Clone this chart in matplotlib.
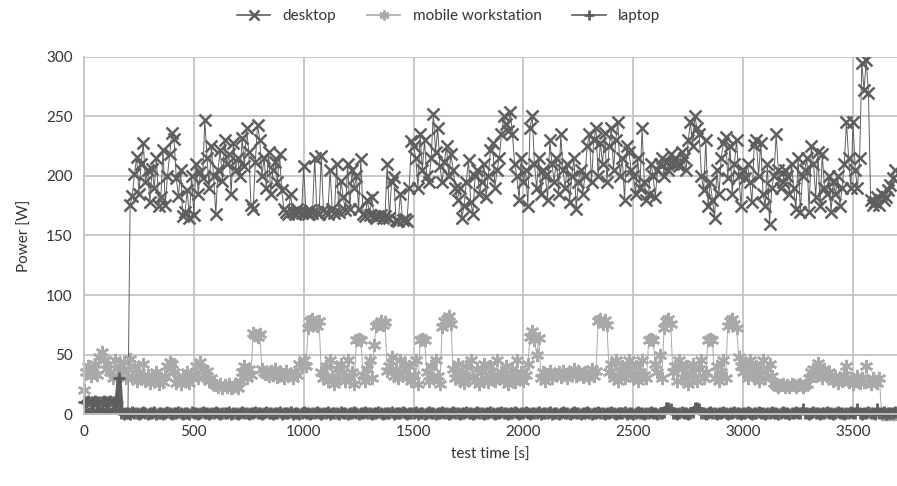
import matplotlib.pyplot as plt
import numpy as np

# test time, one sample every 10 s
t = np.arange(0, 3700, 10)

desktop = [
    0, 0, 0, 0, 0, 0, 0, 0, 0, 0,
    0, 0, 0, 0, 0, 0, 0, 0, 0, 0,
    0, 176, 183, 202, 216, 185, 210, 228, 195, 205,
    178, 206, 190, 215, 175, 182, 222, 176, 200, 218,
    236, 231, 198, 183, 205, 166, 170, 188, 165, 200,
    167, 210, 185, 203, 198, 247, 215, 190, 225, 200,
    168, 205, 222, 196, 230, 210, 218, 185, 228, 205,
    215, 200, 232, 208, 240, 220, 176, 172, 212, 243,
    230, 200, 215, 190, 220, 185, 205, 212, 195, 218,
    188, 172, 170, 168, 185, 170, 168, 172, 170, 169,
    208, 170, 168, 171, 169, 215, 170, 168, 217, 171,
    170, 168, 205, 172, 169, 210, 170, 196, 182, 171,
    210, 172, 205, 190, 200, 172, 214, 168, 166, 180,
    167, 182, 166, 165, 166, 167, 165, 166, 210, 165,
    195, 199, 163, 162, 185, 163, 164, 162, 190, 229,
    225, 215, 190, 235, 205, 230, 200, 195, 215, 252,
    220, 240, 208, 195, 212, 225, 200, 218, 205, 190,
    180, 190, 165, 175, 195, 213, 178, 168, 200, 205,
    185, 195, 210, 182, 200, 222, 228, 190, 205, 215,
    235, 250, 244, 238, 254, 235, 210, 200, 180, 215,
    195, 205, 175, 240, 250, 210, 190, 215, 185, 205,
    200, 180, 230, 210, 195, 215, 185, 235, 205, 190,
    210, 178, 200, 215, 172, 195, 205, 185, 200, 225,
    235, 195, 230, 240, 200, 228, 210, 236, 195, 225,
    240, 205, 230, 245, 200, 215, 180, 225, 220, 205,
    200, 185, 215, 190, 240, 195, 180, 185, 210, 200,
    182, 205, 210, 215, 200, 212, 205, 218, 210, 215,
    210, 208, 220, 215, 205, 230, 245, 225, 250, 240,
    235, 200, 188, 230, 175, 195, 180, 165, 205, 185,
    215, 228, 233, 198, 225, 185, 210, 230, 200, 175,
    205, 198, 210, 195, 178, 226, 230, 200, 228, 185,
    175, 210, 160, 190, 200, 235, 205, 190, 195, 205,
    200, 185, 210, 190, 172, 215, 170, 200, 205, 215,
    170, 225, 210, 182, 220, 175, 218, 190, 185, 200,
    170, 195, 185, 200, 175, 190, 210, 245, 215, 190,
    245, 205, 190, 215, 295, 272, 297, 270, 180, 176,
    178, 182, 176, 185, 180, 182, 188, 192, 198, 205,
]

mobile = [
    20, 35, 40, 32, 38, 42, 33, 48, 52, 45,
    38, 42, 35, 30, 45, 32, 40, 36, 44, 30,
    38, 46, 32, 40, 28, 35, 30, 42, 28, 33,
    26, 32, 28, 35, 25, 30, 27, 32, 40, 44,
    42, 35, 26, 30, 25, 32, 28, 35, 26, 30,
    34, 40, 30, 44, 38, 32, 36, 28, 30, 25,
    24, 23, 25, 22, 24, 23, 25, 22, 23, 24,
    22, 28, 35, 40, 30, 38, 33, 68, 66, 65,
    67, 38, 35, 34, 32, 36, 33, 38, 31, 35,
    33, 30, 36, 32, 34, 30, 35, 33, 42, 40,
    45, 40, 72, 78, 80, 76, 74, 78, 35, 30,
    40, 28, 45, 32, 25, 38, 30, 42, 35, 28,
    45, 30, 35, 25, 62, 63, 62, 33, 28, 38,
    45, 30, 58, 74, 76, 78, 75, 77, 36, 40,
    48, 32, 38, 30, 45, 35, 42, 30, 40, 28,
    33, 45, 25, 62, 63, 62, 35, 28, 40, 30,
    45, 32, 25, 73, 78, 80, 82, 76, 38, 30,
    42, 28, 35, 26, 40, 30, 45, 32, 28, 38,
    25, 35, 42, 30, 27, 40, 33, 28, 45, 30,
    35, 28, 40, 25, 32, 38, 27, 45, 30, 35,
    28, 33, 42, 65, 70, 62, 50, 64, 30, 35,
    28, 32, 36, 30, 34, 33, 35, 31, 36, 34,
    30, 35, 33, 38, 32, 36, 34, 31, 35, 33,
    30, 38, 32, 36, 78, 80, 76, 79, 75, 35,
    42, 30, 45, 28, 35, 40, 30, 38, 45, 33,
    30, 40, 28, 35, 45, 33, 30, 62, 63, 62,
    42, 35, 50, 30, 72, 78, 80, 76, 35, 40,
    28, 45, 38, 30, 40, 25, 35, 42, 30, 28,
    38, 45, 30, 35, 62, 63, 62, 30, 40, 28,
    35, 45, 30, 74, 78, 80, 76, 72, 48, 40,
    35, 42, 30, 45, 38, 32, 40, 28, 35, 45,
    30, 38, 42, 32, 26, 24, 23, 24, 25, 23,
    24, 23, 25, 24, 23, 24, 25, 23, 24, 25,
    30, 35, 38, 32, 43, 35, 30, 38, 32, 35,
    30, 28, 32, 26, 30, 28, 33, 40, 27, 30,
    25, 28, 32, 26, 30, 27, 40, 28, 25, 30,
    28, 26, 30, 0, 0, 0, 0, 0, 0, 0,
]

laptop = [
    10, 10, 11, 10, 10, 11, 10, 10, 10, 11,
    10, 10, 11, 10, 10, 10, 30, 1, 0, 1,
    1, 0, 2, 1, 1, 0, 1, 2, 1, 0,
    1, 1, 2, 0, 1, 1, 0, 1, 2, 1,
    0, 1, 1, 2, 1, 0, 1, 1, 0, 2,
    1, 1, 0, 1, 2, 1, 1, 0, 1, 1,
    2, 1, 0, 1, 1, 1, 2, 0, 1, 1,
    0, 1, 2, 1, 1, 0, 1, 1, 2, 1,
    1, 0, 1, 2, 1, 1, 0, 1, 1, 2,
    0, 1, 1, 1, 2, 0, 1, 1, 0, 1,
    2, 1, 1, 0, 1, 1, 2, 1, 0, 1,
    1, 2, 0, 1, 1, 1, 0, 2, 1, 1,
    0, 1, 1, 2, 1, 0, 1, 1, 2, 1,
    1, 0, 1, 1, 2, 1, 0, 1, 1, 1,
    2, 0, 1, 1, 1, 2, 1, 0, 1, 1,
    1, 2, 0, 1, 1, 0, 1, 2, 1, 1,
    0, 1, 1, 2, 1, 1, 0, 1, 2, 1,
    1, 0, 1, 1, 2, 1, 1, 0, 1, 2,
    1, 1, 0, 1, 1, 2, 1, 0, 1, 1,
    2, 1, 1, 0, 1, 1, 2, 1, 0, 1,
    1, 2, 1, 0, 1, 1, 1, 2, 0, 1,
    1, 1, 2, 0, 1, 1, 0, 1, 2, 1,
    1, 0, 1, 2, 1, 1, 0, 1, 1, 2,
    1, 0, 1, 1, 2, 1, 1, 0, 1, 1,
    2, 1, 0, 1, 1, 1, 2, 0, 1, 1,
    0, 1, 2, 1, 1, 0, 1, 1, 2, 1,
    1, 0, 1, 1, 2, 5, 5, 4, 1, 1,
    0, 1, 2, 1, 1, 0, 1, 2, 5, 5,
    4, 1, 1, 0, 1, 2, 1, 1, 0, 1,
    1, 2, 1, 0, 1, 1, 2, 1, 1, 0,
    1, 1, 2, 1, 0, 1, 1, 2, 1, 1,
    0, 1, 1, 2, 1, 1, 0, 1, 2, 1,
    1, 0, 1, 1, 2, 1, 1, 4, 1, 1,
    0, 1, 2, 1, 1, 0, 1, 1, 2, 1,
    1, 0, 1, 2, 1, 1, 0, 1, 1, 2,
    1, 1, 4, 1, 0, 1, 1, 2, 1, 1,
    0, 4, 1, 1, 2, 0, 1, 1, 1, 2,
]

plt.rcParams['font.family'] = ['Lato', 'DejaVu Sans']

fig = plt.figure(figsize=(8.97, 4.86), dpi=100)
ax = fig.add_axes([0.0936, 0.148, 0.9064, 0.735])

ax.plot(t, desktop, color='#5e5e5e', linewidth=0.7, marker='x',
        markersize=8.5, markeredgewidth=1.8, label='desktop')
ax.plot(t, mobile, color='#a9a9a9', linewidth=0.7, marker=(6, 2, 0),
        markersize=9.5, markeredgewidth=1.8, label='mobile workstation',
        clip_on=False)
ax.plot(t, laptop, color='#5e5e5e', linewidth=3.5, marker='+',
        markersize=8, markeredgewidth=2.0, label='laptop', clip_on=False)

ax.set_xlim(0, 3700)
ax.set_ylim(0, 300)
ax.set_xticks(range(0, 3501, 500))
ax.set_yticks(range(0, 301, 50))
ax.grid(True, color='#c4c4c4', linewidth=1.3)
ax.set_axisbelow(True)
for s in ['top', 'right']:
    ax.spines[s].set_visible(False)
for s in ['left', 'bottom']:
    ax.spines[s].set_color('#c4c4c4')
    ax.spines[s].set_linewidth(1.3)
ax.tick_params(length=0, labelsize=11, colors='#333333', pad=8)
ax.set_xlabel('test time [s]', fontsize=11, color='#333333', labelpad=6)
ax.set_ylabel('Power [W]', fontsize=11, color='#333333', labelpad=10)

leg = fig.legend(loc='upper center', bbox_to_anchor=(0.5, 1.01), ncol=3,
                 frameon=False, fontsize=11, handlelength=2.2,
                 columnspacing=2.0, labelcolor='#333333')
for h in leg.legend_handles:
    h.set_linewidth(1.2)
    h.set_markersize(7)

fig.savefig('out.png', dpi=100)
